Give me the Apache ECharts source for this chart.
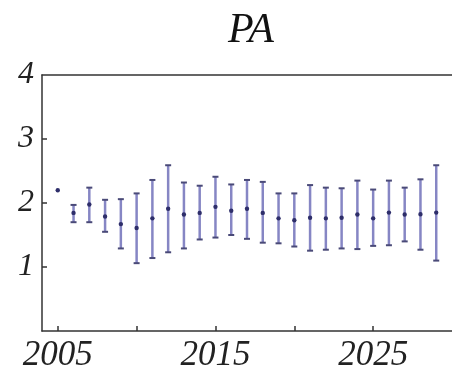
<!DOCTYPE html>
<html>
<head>
<meta charset="utf-8">
<script src="https://cdn.jsdelivr.net/npm/echarts@6/dist/echarts.min.js"></script>
<style>
  html, body { margin: 0; padding: 0; background: #fff; }
  #chart { width: 452px; height: 373px; }
</style>
</head>
<body>
<div id="chart"></div>
<script>
// Yearly estimates with lower/upper bounds
const years = [2005, 2006, 2007, 2008, 2009, 2010, 2011, 2012, 2013, 2014, 2015, 2016,
  2017, 2018, 2019, 2020, 2021, 2022, 2023, 2024, 2025, 2026, 2027, 2028, 2029];
const centre = [2.20, 1.845, 1.976, 1.79, 1.67, 1.61, 1.76, 1.91, 1.82, 1.845, 1.94, 1.88,
  1.91, 1.845, 1.76, 1.73, 1.77, 1.76, 1.77, 1.82, 1.76, 1.85, 1.82, 1.825, 1.85];
const lower = [null, 1.70, 1.70, 1.55, 1.29, 1.06, 1.14, 1.23, 1.29, 1.43, 1.46, 1.50,
  1.44, 1.38, 1.37, 1.32, 1.255, 1.27, 1.29, 1.28, 1.33, 1.34, 1.40, 1.27, 1.10];
const upper = [null, 1.97, 2.24, 2.05, 2.06, 2.15, 2.36, 2.59, 2.32, 2.27, 2.41, 2.29,
  2.36, 2.33, 2.15, 2.15, 2.28, 2.24, 2.23, 2.35, 2.21, 2.35, 2.24, 2.37, 2.59];
const xTicks = [2005, 2010, 2015, 2020, 2025];
const xLabels = [2005, 2015, 2025];
const yLabels = [1, 2, 3, 4];

const rows = years.map((y, i) => [y, centre[i], lower[i], upper[i]]);

const serif = "'Liberation Serif', 'Times New Roman', serif";
const frameLine = { color: '#333', width: 1.5 };
const chart = echarts.init(document.getElementById('chart'), null, { renderer: 'canvas' });

chart.setOption({
  animation: false,
  title: {
    text: 'PA',
    left: 246, top: 5, textAlign: 'center',
    textStyle: { fontFamily: serif, fontStyle: 'italic', fontWeight: 'normal', fontSize: 42, color: '#111' }
  },
  grid: { left: 42, right: -4, top: 75, bottom: 42 },
  xAxis: [{
    type: 'value', min: 2004, max: 2030, position: 'bottom',
    splitLine: { show: false },
    axisLine: { show: true, onZero: false, lineStyle: frameLine },
    axisTick: { show: true, inside: true, length: 5, customValues: xTicks, lineStyle: frameLine },
    axisLabel: {
      customValues: xLabels, margin: 7,
      formatter: function (v) { return String(v); },
      fontFamily: serif, fontStyle: 'italic', fontSize: 35, color: '#222'
    }
  }, {
    // top edge of the frame
    type: 'value', min: 2004, max: 2030, position: 'top',
    splitLine: { show: false },
    axisLine: { show: true, onZero: false, lineStyle: frameLine },
    axisTick: { show: false },
    axisLabel: { show: false }
  }],
  yAxis: {
    type: 'value', min: 0, max: 4, interval: 1,
    splitLine: { show: false },
    axisLine: { show: true, onZero: false, lineStyle: frameLine },
    axisTick: { show: true, inside: true, length: 5, customValues: [1, 2, 3], lineStyle: frameLine },
    axisLabel: {
      customValues: yLabels, margin: 8,
      formatter: function (v) { return String(v); },
      fontFamily: serif, fontStyle: 'italic', fontSize: 32, color: '#222'
    }
  },
  series: [{
    type: 'custom',
    data: rows,
    encode: { x: 0, y: 1 },
    renderItem: function (params, api) {
      const x = api.value(0);
      const mid = api.coord([x, api.value(1)]);
      const children = [];
      const lo = api.value(2), hi = api.value(3);
      if (lo != null && hi != null && !isNaN(lo) && !isNaN(hi)) {
        const pLo = api.coord([x, lo]);
        const pHi = api.coord([x, hi]);
        const cap = 3;
        children.push({
          type: 'line',
          shape: { x1: pLo[0], y1: pLo[1], x2: pHi[0], y2: pHi[1] },
          style: { stroke: '#8686c4', lineWidth: 2.5 }
        });
        children.push({
          type: 'line',
          shape: { x1: pHi[0] - cap, y1: pHi[1], x2: pHi[0] + cap, y2: pHi[1] },
          style: { stroke: '#4a4a78', lineWidth: 2 }
        });
        children.push({
          type: 'line',
          shape: { x1: pLo[0] - cap, y1: pLo[1], x2: pLo[0] + cap, y2: pLo[1] },
          style: { stroke: '#4a4a78', lineWidth: 2 }
        });
      }
      children.push({
        type: 'circle',
        shape: { cx: mid[0], cy: mid[1], r: 2.2 },
        style: { fill: '#2e2e6a' }
      });
      return { type: 'group', children: children };
    }
  }]
});
</script>
</body>
</html>
